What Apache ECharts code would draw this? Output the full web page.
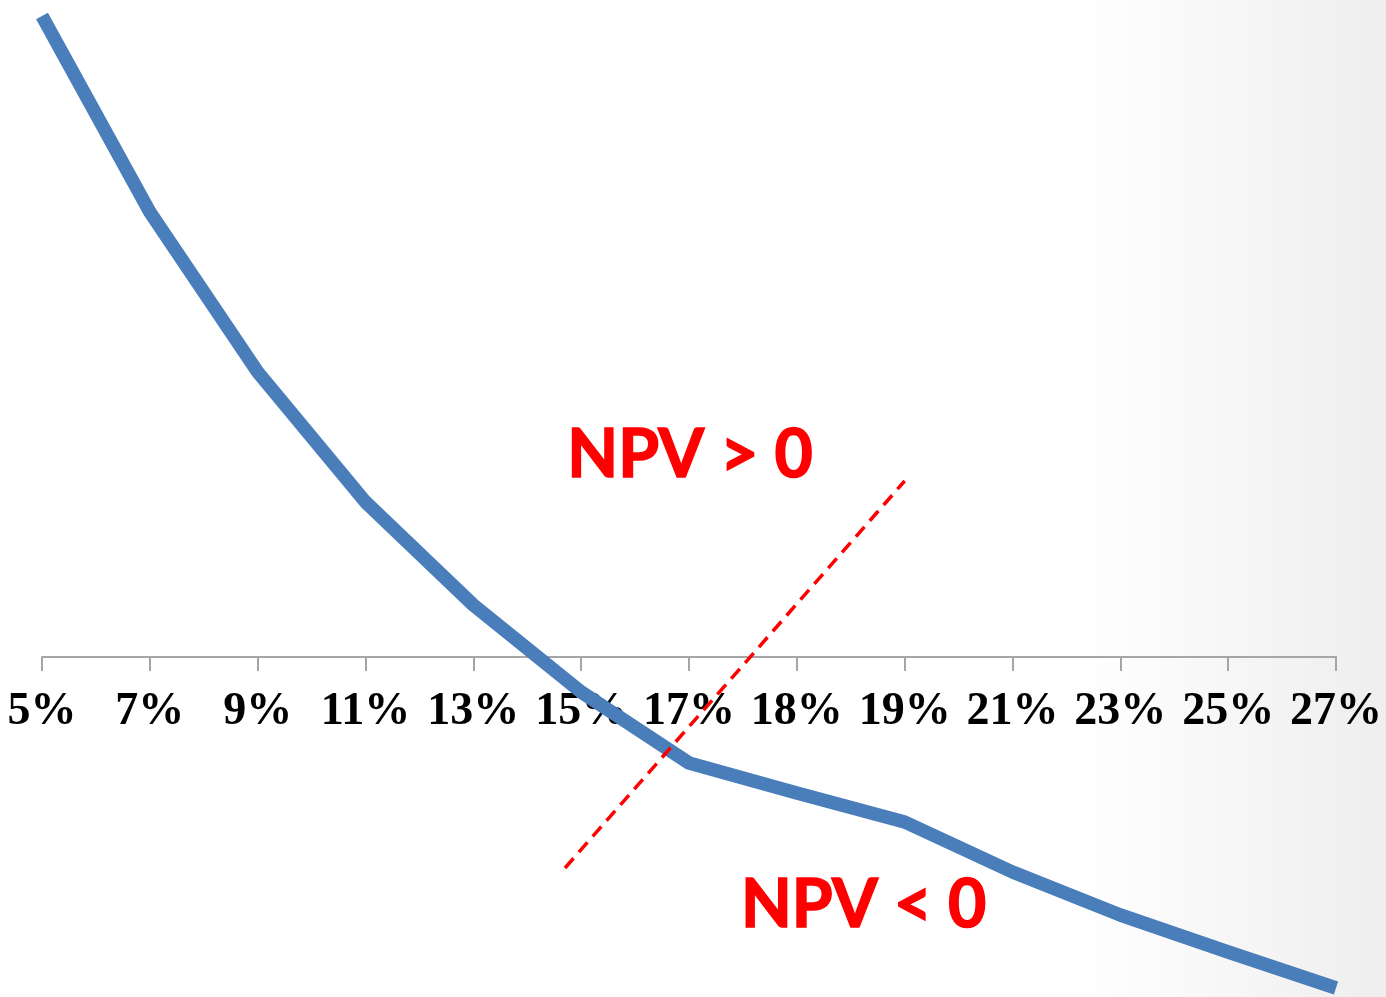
<!DOCTYPE html>
<html>
<head>
<meta charset="utf-8">
<script src="https://cdn.jsdelivr.net/npm/echarts@6/dist/echarts.min.js"></script>
<style>
  html, body { margin: 0; padding: 0; }
  #chart { width: 1386px; height: 997px; }
</style>
</head>
<body>
<div id="chart"></div>
<script>
// Discount rates on the horizontal axis
const rates = ['5%', '7%', '9%', '11%', '13%', '15%', '17%', '18%', '19%', '21%', '23%', '25%', '27%'];
// Net present value at each discount rate
const npv = [641, 445, 285, 155, 52, -35, -106, -136, -165, -215, -258, -295, -331];
// Dashed guide through the IRR crossing, in (category index, value) units
const guideLine = [[4.85, -211], [8.0, 176]];
// Region captions and their anchors, in (category index, value) units
const captions = [
  { text: 'NPV > 0', at: [6.01, 201] },
  { text: 'NPV < 0', at: [7.62, -249] }
];

const Y_MIN = -340;
const Y_MAX = 650;

const chart = echarts.init(document.getElementById('chart'));
const gridHeight = 997 - 7;
// Lift the category axis from the grid bottom up to the zero line
const zeroOffset = -gridHeight * (0 - Y_MIN) / (Y_MAX - Y_MIN);

chart.setOption({
  animation: false,
  backgroundColor: {
    type: 'linear', x: 0, y: 0, x2: 1, y2: 0,
    colorStops: [
      { offset: 0, color: '#ffffff' },
      { offset: 0.78, color: '#ffffff' },
      { offset: 1, color: '#eeeeee' }
    ]
  },
  grid: { left: 42, right: 50, top: 7, bottom: 0, containLabel: false, outerBoundsMode: 'none' },
  xAxis: [
    {
      type: 'category',
      data: rates,
      boundaryGap: false,
      position: 'bottom',
      offset: zeroOffset,
      axisLine: { onZero: false, lineStyle: { color: '#a6a6a6', width: 2 } },
      axisTick: { show: true, length: 14, lineStyle: { color: '#a6a6a6', width: 2 } },
      axisLabel: {
        color: '#000000',
        fontFamily: '"Liberation Serif", "Times New Roman", serif',
        fontWeight: 'bold',
        fontSize: 46,
        margin: 32,
        interval: 0,
        hideOverlap: false
      },
      splitLine: { show: false }
    },
    { type: 'value', min: 0, max: 12, show: false }
  ],
  yAxis: {
    type: 'value',
    min: Y_MIN,
    max: Y_MAX,
    show: false,
    splitLine: { show: false }
  },
  series: [
    {
      type: 'line',
      data: npv,
      symbol: 'none',
      lineStyle: { color: '#4a7ebb', width: 13.5, cap: 'butt', join: 'round' },
      z: 3
    },
    {
      type: 'line',
      xAxisIndex: 1,
      data: guideLine,
      symbol: 'none',
      lineStyle: { color: '#ff0000', width: 3.5, type: [13, 8] },
      z: 4
    },
    {
      type: 'scatter',
      xAxisIndex: 1,
      symbolSize: 0,
      itemStyle: { opacity: 1 },
      data: captions.map(c => ({ name: c.text, value: c.at })),
      label: {
        show: true,
        position: 'inside',
        formatter: p => p.name,
        color: '#ff0000',
        fontFamily: 'Lato, "Open Sans", sans-serif',
        fontWeight: 'bold',
        fontSize: 66,
        textBorderColor: '#ff0000',
        textBorderWidth: 1.5
      },
      z: 5
    }
  ]
});
</script>
</body>
</html>
